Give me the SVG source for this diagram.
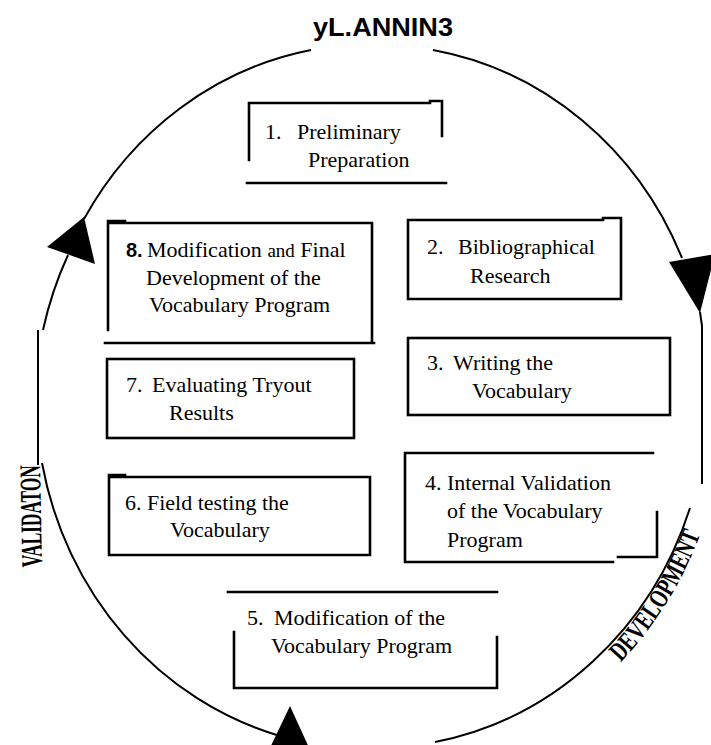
<svg xmlns="http://www.w3.org/2000/svg" width="711" height="745" viewBox="0 0 711 745">
<style>
.bx{fill:none;stroke:#000;stroke-width:2.6;stroke-linecap:square}
.cl{fill:none;stroke:#000;stroke-width:2}
.ah{fill:#000;stroke:none}
.t{font-family:"Liberation Serif","Times New Roman",serif;font-size:22px;fill:#000}
.b8{font-family:"Liberation Sans",Arial,sans-serif;font-weight:bold;font-size:20px}
.lab{font-family:"Liberation Serif","Times New Roman",serif;font-weight:bold;fill:#000}
</style>
<defs>
<path id="devPath" d="M554.6,717.4 A356,378 0 0 0 721.6,450.4"/>
</defs>
<rect width="711" height="745" fill="#fff"/>

<g id="title">
<text x="313" y="36" font-family="'Liberation Sans',Arial,sans-serif" font-weight="bold" font-size="25" textLength="140" lengthAdjust="spacingAndGlyphs">yL.ANNIN3</text>
</g>

<g id="connectors">
<path class="cl" d="M311,50 A333,353 0 0 0 84,219"/>
<polygon class="ah" points="84,217 47,247 95,264"/>
<path class="cl" d="M68,255 A333,353 0 0 0 43,330"/>
<line class="cl" x1="38" y1="330" x2="38" y2="465"/>
<path class="cl" d="M42,463 A333,353 0 0 0 280,736"/>
<polygon class="ah" points="290,706 268,752 311,752"/>
<path class="cl" d="M435,742 A333,353 0 0 0 690,508"/>
<line class="cl" x1="702" y1="325" x2="702" y2="484"/>
<path class="cl" d="M433,50 A333,353 0 0 1 682,258"/>
<polygon class="ah" points="669,262 715,254 700,313"/>
<line class="cl" x1="700" y1="312" x2="702" y2="326"/>
</g>

<g id="label-validation">
<text class="lab" font-size="30" transform="translate(41,516) rotate(-91)" text-anchor="middle" textLength="102" lengthAdjust="spacingAndGlyphs">VALIDATON</text>
</g>
<g id="label-development">
<text class="lab" font-size="27"><textPath href="#devPath" startOffset="50%" text-anchor="middle" textLength="152" lengthAdjust="spacingAndGlyphs">DEVELOPMENT</textPath></text>
</g>

<g id="node1">
<path class="bx" d="M249,160 V103 H430 M430,101 H442 V136 M247,183 H446"/>
<text class="t" y="139"><tspan x="265">1.</tspan><tspan x="297">Preliminary</tspan></text>
<text class="t" x="308" y="167">Preparation</text>
</g>

<g id="node2">
<path class="bx" d="M408,299 V220 H603 M603,218 H621 V299 H408"/>
<text class="t" y="254"><tspan x="427">2.</tspan><tspan x="458">Bibliographical</tspan></text>
<text class="t" x="470" y="283">Research</text>
</g>

<g id="node3">
<rect class="bx" x="408" y="338" width="262" height="77"/>
<text class="t" y="370"><tspan x="427">3.</tspan><tspan x="453">Writing the</tspan></text>
<text class="t" x="472" y="398">Vocabulary</text>
</g>

<g id="node4">
<path class="bx" d="M653,453 H405 V562 H613 M618,557 H657 V512"/>
<text class="t" x="425" y="490">4. Internal Validation</text>
<text class="t" x="447" y="518">of the Vocabulary</text>
<text class="t" x="447" y="547">Program</text>
</g>

<g id="node5">
<path class="bx" d="M228,592 H497 M234,632 V688 H497 V637"/>
<text class="t" y="625"><tspan x="247">5.</tspan><tspan x="274">Modification of the</tspan></text>
<text class="t" x="271" y="653">Vocabulary Program</text>
</g>

<g id="node6">
<path class="bx" d="M109,555 V477 H370 V555 H109 M109,475 H125"/>
<text class="t" x="125" y="510">6. Field testing the</text>
<text class="t" x="170" y="537">Vocabulary</text>
</g>

<g id="node7">
<rect class="bx" x="107" y="359" width="247" height="79"/>
<text class="t" y="392"><tspan x="126">7.</tspan><tspan x="152">Evaluating Tryout</tspan></text>
<text class="t" x="169" y="420">Results</text>
</g>

<g id="node8">
<path class="bx" d="M108,330 V223 H372 V343 M105,343 H374 M108,221 H125"/>
<text class="t" y="257"><tspan class="b8" x="126">8.</tspan><tspan x="147">Modification </tspan><tspan font-size="19">and</tspan><tspan> Final</tspan></text>
<text class="t" x="146" y="285">Development of the</text>
<text class="t" x="149" y="312">Vocabulary Program</text>
</g>
</svg>
